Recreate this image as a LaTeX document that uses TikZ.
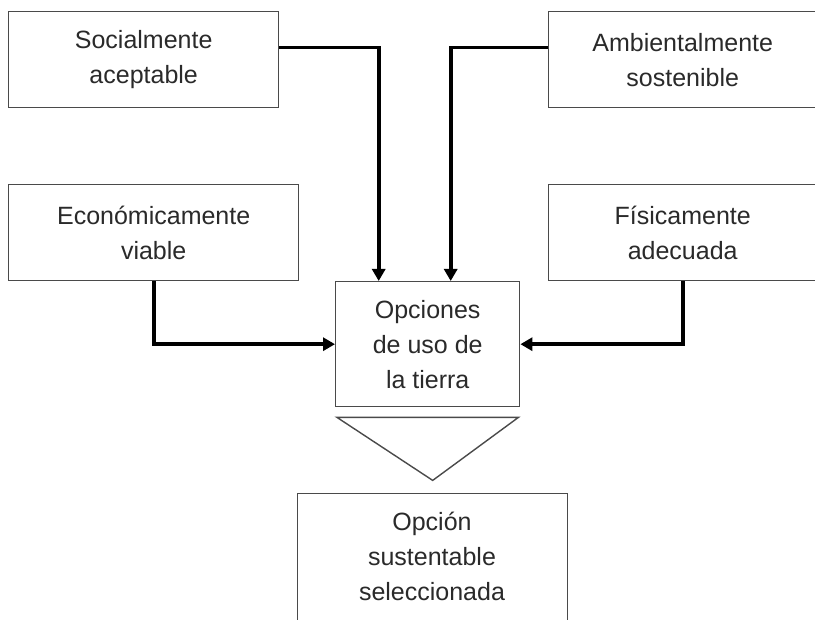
\documentclass[tikz,border=0pt]{standalone}
\usepackage{fontspec}
\setmainfont{Liberation Sans}
\usetikzlibrary{arrows.meta,calc}
\definecolor{framegray}{HTML}{4A4A4A}
\definecolor{inkgray}{HTML}{2A2A2A}
\begin{document}
\begin{tikzpicture}[x=1pt,y=-1pt,
  box/.style={draw=framegray, line width=1.4pt, fill=white, align=center,
    text=inkgray, inner sep=0pt, anchor=north west,
    font=\fontsize{25}{35}\selectfont},
  txt/.style={align=center, text=inkgray, inner sep=0pt,
    font=\fontsize{25}{35}\selectfont},
  feed/.style={line width=3.6pt, draw=black,
    -{Triangle[length=12pt,width=13pt]}},
  funnel/.style={draw=framegray, line width=1.4pt, line join=miter}]
\useasboundingbox (0,0) rectangle (815,620);
\clip (0,0) rectangle (815,620);

% criteria boxes
\node[box, minimum width=270, minimum height=96] (soc) at (8,11)
  {Socialmente\\aceptable};
\node[box, minimum width=268, minimum height=96] (amb) at (548,11)
  {Ambientalmente\\sostenible};
\node[box, minimum width=290, minimum height=96] (eco) at (8,184)
  {Económicamente\\viable};
\node[box, minimum width=268, minimum height=96] (fis) at (548,184)
  {Físicamente\\adecuada};

% central box
\node[box, minimum width=184, minimum height=125] (opc) at (335,281)
  {Opciones\\de uso de\\la tierra};

% result box (runs past the lower edge)
\node[box, minimum width=270, minimum height=150] (selbox) at (297,493) {};
\node[txt] (sel) at (432,556) {Opción\\sustentable\\seleccionada};

% connectors into the central box
\draw[feed] ([yshift=12pt]soc.east) -| ([xshift=-49pt]opc.north);
\draw[feed] ([yshift=12pt]amb.west) -| ([xshift=23pt]opc.north);
\draw[feed] (eco.south) |- (opc.west);
\draw[feed] (fis.south) |- (opc.east);

% funnel between the central box and the result
\draw[funnel] ($(opc.south west)+(2,10)$) -- ($(opc.south east)+(-2,10)$)
  -- ($(opc.south)+(5,73)$) -- cycle;
\end{tikzpicture}
\end{document}
